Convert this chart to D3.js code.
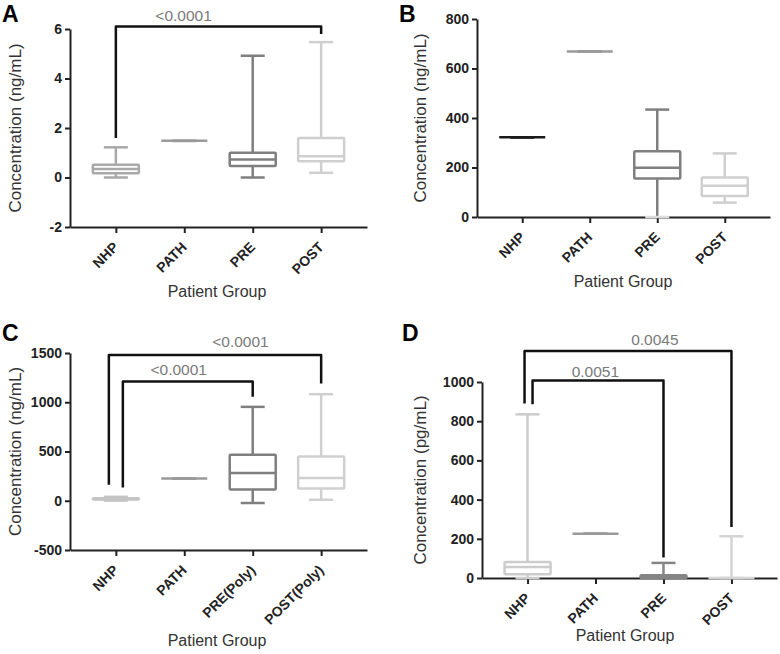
<!DOCTYPE html>
<html>
<head>
<meta charset="utf-8">
<script src="https://cdn.jsdelivr.net/npm/d3@7"></script>
<style>
  body { margin: 0; background: #fff; }
  svg { font-family: "Liberation Sans", Arial, Helvetica, sans-serif; }
</style>
</head>
<body>
<svg id="fig" width="780" height="654"></svg>
<script>
// Categories
var groups = ["NHP", "PATH", "PRE", "POST"];
var groupsPoly = ["NHP", "PATH", "PRE(Poly)", "POST(Poly)"];

// Box stats per group: [min, q1, median, q3, max]
var boxesA = [[0, 0.17, 0.34, 0.52, 1.22], [1.48, 1.48, 1.48, 1.48, 1.48], [0, 0.46, 0.73, 1.0, 4.92], [0.19, 0.66, 0.86, 1.6, 5.47]];
var boxesB = [[322, 322, 322, 322, 322], [669, 669, 669, 669, 669], [0, 156, 199, 266, 434], [58, 85, 126, 160, 257]];
var boxesC = [[2, 12, 18, 25, 40], [226, 226, 226, 226, 226], [-23, 115, 281, 466, 953], [10, 125, 230, 449, 1082]];
var boxesD = [[0, 19, 56, 82, 835], [226, 226, 226, 226, 226], [0, 0, 5, 14, 77], [0, 0, 0, 0, 213]];

// Y tick values
var ticksA = [-2, 0, 2, 4, 6];
var ticksB = [0, 200, 400, 600, 800];
var ticksC = [-500, 0, 500, 1000, 1500];
var ticksD = [0, 200, 400, 600, 800, 1000];

// Significance brackets: low = left leg end, top = bar, high = right leg end
var sigA = [{from: "NHP", to: "POST", low: 1.6, top: 6.1, high: 5.8, p: "<0.0001"}];
var sigC = [{from: "NHP", to: "POST(Poly)", low: 162, top: 1480, high: 1190, p: "<0.0001"},
            {from: "NHP", to: "PRE(Poly)", low: 135, top: 1210, high: 1055, p: "<0.0001"}];
var sigD = [{from: "NHP", to: "POST", low: 890, top: 1158, high: 260, p: "0.0045"},
            {from: "NHP", to: "PRE", low: 886, top: 1008, high: 104, p: "0.0051"}];

var yTitle = "Concentration (ng/mL)";
var yTitlePg = "Concentration (pg/mL)";
var xTitle = "Patient Group";

// Layout of each panel (pixels)
var panels = [
    {letter: "A", cats: groups, boxes: boxesA, ticks: ticksA, sig: sigA, ytitle: yTitle,
     colors: ["#a9a9a9", "#9a9a9a", "#7f7f7f", "#cfcfcf"], lowCap: {},
     x0: 70, x1: 367, y0: 227, y1: 29, letterPos: [2, 22], yTitleX: 15, xTitle: [217, 297],
     sigStyle: [{dl: 0, lx: 0.33, ly: 6}]},
    {letter: "B", cats: groups, boxes: boxesB, ticks: ticksB, sig: [], ytitle: yTitle,
     colors: ["#1a1a1a", "#9a9a9a", "#7f7f7f", "#cfcfcf"], lowCap: {2: "#dcdcdc"},
     x0: 477, x1: 770, y0: 217, y1: 19, letterPos: [399, 22], yTitleX: 420, xTitle: [623, 287],
     sigStyle: []},
    {letter: "C", cats: groupsPoly, boxes: boxesC, ticks: ticksC, sig: sigC, ytitle: yTitle,
     colors: ["#c4c4c4", "#9a9a9a", "#7f7f7f", "#d0d0d0"], lowCap: {},
     x0: 70, x1: 367, y0: 550, y1: 353, letterPos: [2, 341], yTitleX: 15, xTitle: [217, 646],
     sigStyle: [{dl: -7, lx: 0.62, ly: 8}, {dl: 7, lx: 0.43, ly: 7}]},
    {letter: "D", cats: groups, boxes: boxesD, ticks: ticksD, sig: sigD, ytitle: yTitlePg,
     colors: ["#cccccc", "#9a9a9a", "#858585", "#d4d4d4"], lowCap: {},
     x0: 482, x1: 777, y0: 578, y1: 382, letterPos: [402, 341], yTitleX: 420, xTitle: [625, 641],
     sigStyle: [{dl: -3, lx: 0.63, ly: 6}, {dl: 5, lx: 0.48, ly: 3}]}
];

var boxWidth = 46;
var capWidth = 24;

var svg = d3.select("#fig");

panels.forEach(function (pn) {
    var g = svg.append("g");

    var y = d3.scaleLinear()
        .domain([pn.ticks[0], pn.ticks[pn.ticks.length - 1]])
        .range([pn.y0, pn.y1]);
    var x = d3.scalePoint()
        .domain(pn.cats)
        .range([pn.x0, pn.x1])
        .padding(0.67);

    // Axes
    var yAxis = g.append("g")
        .attr("transform", `translate(${pn.x0}, 0)`)
        .call(d3.axisLeft(y).tickValues(pn.ticks).tickFormat(d => String(d))
            .tickSize(5).tickSizeOuter(0).tickPadding(3));
    var xAxis = g.append("g")
        .attr("transform", `translate(0, ${pn.y0})`)
        .call(d3.axisBottom(x).tickSize(6).tickSizeOuter(0));

    [yAxis, xAxis].forEach(function (ax) {
        ax.select(".domain").attr("stroke", "#222").attr("stroke-width", 2);
        ax.selectAll(".tick line").attr("stroke", "#222").attr("stroke-width", 2);
        ax.selectAll(".tick text")
            .attr("fill", "#222")
            .style("font-size", "14px")
            .style("font-weight", "bold")
            .style("font-family", "'Liberation Sans', Arial, sans-serif");
    });
    xAxis.selectAll(".tick text")
        .attr("x", null).attr("y", null).attr("dy", null)
        .attr("transform", "translate(3, 21) rotate(-45)")
        .style("text-anchor", "end");

    // Boxes
    var bx = g.selectAll(".box")
        .data(pn.boxes)
        .enter()
        .append("g")
        .attr("class", "box")
        .attr("stroke", (d, i) => pn.colors[i])
        .attr("stroke-width", 2.5)
        .attr("fill", "none");

    var cx = (d, i) => x(pn.cats[i]);

    bx.append("line") // upper whisker
        .attr("x1", cx).attr("x2", cx)
        .attr("y1", d => y(d[4])).attr("y2", d => y(d[3]));
    bx.append("line") // lower whisker
        .attr("x1", cx).attr("x2", cx)
        .attr("y1", d => y(d[1])).attr("y2", d => y(d[0]));
    bx.append("line") // max cap
        .attr("x1", (d, i) => cx(d, i) - capWidth / 2).attr("x2", (d, i) => cx(d, i) + capWidth / 2)
        .attr("y1", d => y(d[4])).attr("y2", d => y(d[4]));
    bx.append("line") // min cap
        .attr("x1", (d, i) => cx(d, i) - capWidth / 2).attr("x2", (d, i) => cx(d, i) + capWidth / 2)
        .attr("y1", d => y(d[0])).attr("y2", d => y(d[0]))
        .attr("stroke", (d, i) => pn.lowCap[i] || null);
    bx.append("rect")
        .attr("x", (d, i) => cx(d, i) - boxWidth / 2)
        .attr("width", boxWidth)
        .attr("y", d => y(d[3]))
        .attr("height", d => Math.max(0, y(d[1]) - y(d[3])))
        .attr("rx", 1);
    bx.append("line") // median
        .attr("x1", (d, i) => cx(d, i) - boxWidth / 2).attr("x2", (d, i) => cx(d, i) + boxWidth / 2)
        .attr("y1", d => y(d[2])).attr("y2", d => y(d[2]));

    // Significance brackets
    pn.sig.forEach(function (s, k) {
        var st = pn.sigStyle[k];
        var xl = x(s.from) + st.dl;
        var xr = x(s.to);
        g.append("path")
            .attr("d", `M${xl},${y(s.low)}V${y(s.top)}H${xr}V${y(s.high)}`)
            .attr("fill", "none")
            .attr("stroke", "#111")
            .attr("stroke-width", 2.5)
            .attr("stroke-linejoin", "round");
        g.append("text")
            .attr("x", xl + (xr - xl) * st.lx)
            .attr("y", y(s.top) - st.ly)
            .attr("text-anchor", "middle")
            .attr("fill", "#7a7a7a")
            .style("font-size", "15.5px")
            .text(s.p);
    });

    // Titles
    g.append("text")
        .attr("transform", `translate(${pn.yTitleX}, ${(pn.y0 + pn.y1) / 2}) rotate(-90)`)
        .attr("text-anchor", "middle")
        .attr("dy", "0.35em")
        .attr("fill", "#333")
        .style("font-size", "17px")
        .text(pn.ytitle);
    g.append("text")
        .attr("x", pn.xTitle[0])
        .attr("y", pn.xTitle[1])
        .attr("text-anchor", "middle")
        .attr("fill", "#333")
        .style("font-size", "16px")
        .text(xTitle);
    g.append("text")
        .attr("x", pn.letterPos[0])
        .attr("y", pn.letterPos[1])
        .attr("fill", "#000")
        .style("font-size", "23px")
        .style("font-weight", "bold")
        .text(pn.letter);
});
</script>
</body>
</html>
